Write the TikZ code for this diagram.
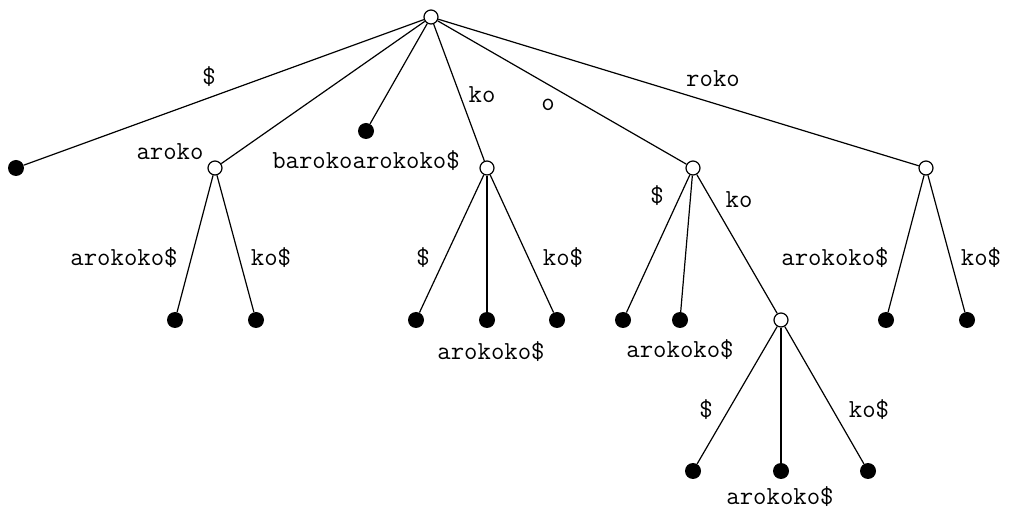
\documentclass[tikz,border=0pt]{standalone}
\begin{document}
\begin{tikzpicture}[x=1pt,y=-1pt,
  inner/.style={circle,draw,fill=white,line width=1.2pt,minimum size=14pt,inner sep=0pt},
  leaf/.style={circle,fill=black,minimum size=16pt,inner sep=0pt},
  lbl/.style={font=\fontsize{26}{30}\selectfont\ttfamily,inner sep=0pt},
  edge/.style={line width=1.2pt}]
\useasboundingbox (0,0) rectangle (1010,510);
% nodes
\node[inner] (r) at (431,17) {};
\node[leaf] (l1) at (16,168) {};
\node[inner] (a) at (215,168) {};
\node[leaf] (l2) at (366,131) {};
\node[inner] (k) at (487,168) {};
\node[inner] (o) at (693,168) {};
\node[inner] (rk) at (926,168) {};
\node[leaf] (a1) at (175,320) {};
\node[leaf] (a2) at (256,320) {};
\node[leaf] (k1) at (416,320) {};
\node[leaf] (k2) at (487,320) {};
\node[leaf] (k3) at (557,320) {};
\node[leaf] (o1) at (623,320) {};
\node[leaf] (o2) at (680,320) {};
\node[inner] (ok) at (781,320) {};
\node[leaf] (ok1) at (693,471) {};
\node[leaf] (ok2) at (781,471) {};
\node[leaf] (ok3) at (868,471) {};
\node[leaf] (rk1) at (886,320) {};
\node[leaf] (rk2) at (967,320) {};
% edges
\draw[edge] (r) -- (l1);
\draw[edge] (r) -- (a);
\draw[edge] (r) -- (l2);
\draw[edge] (r) -- (k);
\draw[edge] (r) -- (o);
\draw[edge] (r) -- (rk);
\draw[edge] (a) -- (a1);
\draw[edge] (a) -- (a2);
\draw[edge] (k) -- (k1);
\draw[edge] (k) -- (k2);
\draw[edge] (k) -- (k3);
\draw[edge] (o) -- (o1);
\draw[edge] (o) -- (o2);
\draw[edge] (o) -- (ok);
\draw[edge] (ok) -- (ok1);
\draw[edge] (ok) -- (ok2);
\draw[edge] (ok) -- (ok3);
\draw[edge] (rk) -- (rk1);
\draw[edge] (rk) -- (rk2);
% labels
\node[lbl] (t1) at (209,77) {\$};
\node[lbl] (t2) at (170,152) {aroko};
\node[lbl] (t3) at (366,161) {barokoarokoko\$};
\node[lbl] (t4) at (482,95) {ko};
\node[lbl] (t5) at (548,105) {o};
\node[lbl] (t6) at (713,79) {roko};
\node[lbl] (t7) at (124,258) {arokoko\$};
\node[lbl] (t8) at (271,258) {ko\$};
\node[lbl] (t9) at (423,258) {\$};
\node[lbl] (t10) at (491,352) {arokoko\$};
\node[lbl] (t11) at (563,258) {ko\$};
\node[lbl] (t12) at (657,196) {\$};
\node[lbl] (t13) at (739,200) {ko};
\node[lbl] (t14) at (680,350) {arokoko\$};
\node[lbl] (t15) at (835,258) {arokoko\$};
\node[lbl] (t16) at (981,258) {ko\$};
\node[lbl] (t17) at (706,410) {\$};
\node[lbl] (t18) at (869,410) {ko\$};
\node[lbl] (t19) at (780,497) {arokoko\$};
\end{tikzpicture}
\end{document}
